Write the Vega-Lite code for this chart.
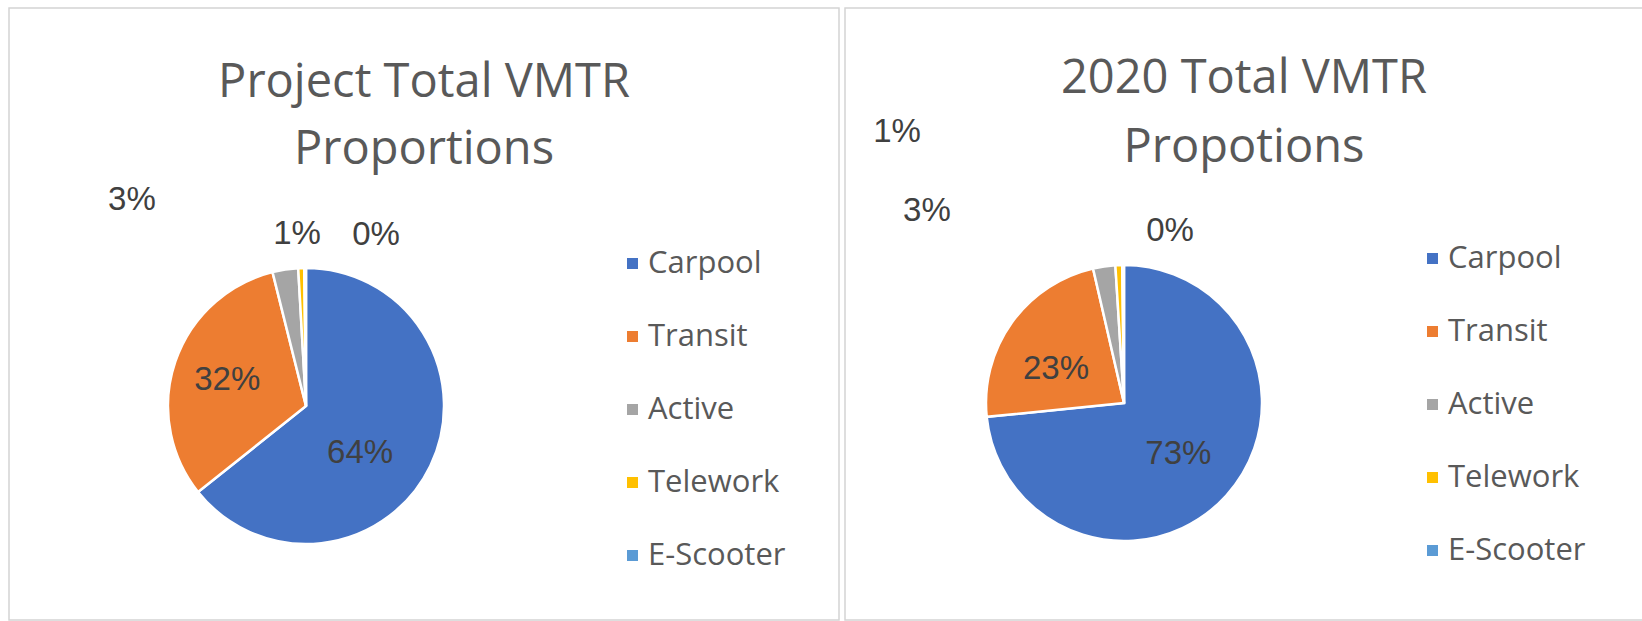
{
  "$schema": "https://vega.github.io/schema/vega-lite/v6.json",
  "background": "white",
  "padding": {"left": 8, "top": 7, "right": 0, "bottom": 0},
  "spacing": 4,
  "config": {"view": {"stroke": null}},
  "datasets": {
    "project": [
      {"mode": "Carpool", "rank": 1, "share": 0.643},
      {"mode": "Transit", "rank": 2, "share": 0.318},
      {"mode": "Active", "rank": 3, "share": 0.030},
      {"mode": "Telework", "rank": 4, "share": 0.007},
      {"mode": "E-Scooter", "rank": 5, "share": 0.002}
    ],
    "y2020": [
      {"mode": "Carpool", "rank": 1, "share": 0.734},
      {"mode": "Transit", "rank": 2, "share": 0.230},
      {"mode": "Active", "rank": 3, "share": 0.026},
      {"mode": "Telework", "rank": 4, "share": 0.008},
      {"mode": "E-Scooter", "rank": 5, "share": 0.002}
    ],
    "frame": [{"panel": "frame"}]
  },
  "resolve": {"scale": {"color": "independent", "theta": "independent"}, "legend": {"color": "independent"}},
  "hconcat": [
    {
      "width": 830,
      "height": 612,
      "title": {"text": ["Project Total VMTR", "Proportions"], "font": "Open Sans", "fontSize": 47, "fontWeight": "normal", "color": "#595959", "lineHeight": 67, "anchor": "middle", "frame": "group", "baseline": "alphabetic", "offset": -204},
      "layer": [
        {
          "data": {"name": "frame"},
          "mark": {"type": "rect", "fill": null, "stroke": "#d4d4d4", "strokeWidth": 1.5},
          "encoding": {}
        },
        {
          "data": {"name": "project"},
          "mark": {"type": "arc", "radius": 138, "stroke": "white", "strokeWidth": 2.5, "x": 297, "y": 398},
          "encoding": {
            "theta": {"field": "share", "type": "quantitative", "stack": true},
            "order": {"field": "rank", "type": "quantitative"},
            "color": {
              "field": "mode", "type": "nominal",
              "scale": {"domain": ["Carpool", "Transit", "Active", "Telework", "E-Scooter"], "range": ["#4472C4", "#ED7D31", "#A5A5A5", "#FFC000", "#5B9BD5"]},
              "legend": {"orient": "none", "legendX": 608, "legendY": 240, "title": null, "symbolType": "square", "symbolSize": 121, "symbolStrokeWidth": 0, "labelFont": "Open Sans", "labelFontSize": 31, "labelColor": "#595959", "labelOffset": 0, "rowPadding": 41, "padding": 0}
            }
          }
        },
        {
          "data": {"name": "project"},
          "mark": {
            "type": "text", "x": 297, "y": 398, "font": "Liberation Sans", "fontSize": 33, "align": "center", "baseline": "middle", "fill": "#404040",
            "radius": {"expr": "datum.share > 0.1 ? 80 : 160"},
            "dx": {"expr": "({'Carpool': -18, 'Transit': -3, 'Active': -150, 'Telework': -3.5, 'E-Scooter': 71})[datum.mode]"},
            "dy": {"expr": "({'Carpool': 12, 'Transit': 0, 'Active': -48, 'Telework': -12, 'E-Scooter': -11})[datum.mode]"}
          },
          "encoding": {
            "theta": {"field": "share", "type": "quantitative", "stack": true},
            "order": {"field": "rank", "type": "quantitative"},
            "detail": {"field": "mode", "type": "nominal"},
            "text": {"field": "share", "type": "quantitative", "format": ".0%"}
          }
        }
      ]
    },
    {
      "width": 798,
      "height": 612,
      "title": {"text": ["2020 Total VMTR", "Propotions"], "font": "Open Sans", "fontSize": 47, "fontWeight": "normal", "color": "#595959", "lineHeight": 69, "anchor": "middle", "frame": "group", "baseline": "alphabetic", "offset": -202},
      "layer": [
        {
          "data": {"name": "frame"},
          "mark": {"type": "rect", "fill": null, "stroke": "#d4d4d4", "strokeWidth": 1.5},
          "encoding": {}
        },
        {
          "data": {"name": "y2020"},
          "mark": {"type": "arc", "radius": 138, "stroke": "white", "strokeWidth": 2.5, "x": 279, "y": 395},
          "encoding": {
            "theta": {"field": "share", "type": "quantitative", "stack": true},
            "order": {"field": "rank", "type": "quantitative"},
            "color": {
              "field": "mode", "type": "nominal",
              "scale": {"domain": ["Carpool", "Transit", "Active", "Telework", "E-Scooter"], "range": ["#4472C4", "#ED7D31", "#A5A5A5", "#FFC000", "#5B9BD5"]},
              "legend": {"orient": "none", "legendX": 572, "legendY": 235, "title": null, "symbolType": "square", "symbolSize": 121, "symbolStrokeWidth": 0, "labelFont": "Open Sans", "labelFontSize": 31, "labelColor": "#595959", "labelOffset": 0, "rowPadding": 41, "padding": 0}
            }
          }
        },
        {
          "data": {"name": "y2020"},
          "mark": {
            "type": "text", "x": 279, "y": 395, "font": "Liberation Sans", "fontSize": 33, "align": "center", "baseline": "middle", "fill": "#404040",
            "radius": {"expr": "datum.share > 0.1 ? 80 : 160"},
            "dx": {"expr": "({'Carpool': -5, 'Transit': -3, 'Active': -174, 'Telework': -221, 'E-Scooter': 47})[datum.mode]"},
            "dy": {"expr": "({'Carpool': -3, 'Transit': 13, 'Active': -34, 'Telework': -111, 'E-Scooter': -12})[datum.mode]"}
          },
          "encoding": {
            "theta": {"field": "share", "type": "quantitative", "stack": true},
            "order": {"field": "rank", "type": "quantitative"},
            "detail": {"field": "mode", "type": "nominal"},
            "text": {"field": "share", "type": "quantitative", "format": ".0%"}
          }
        }
      ]
    }
  ]
}
